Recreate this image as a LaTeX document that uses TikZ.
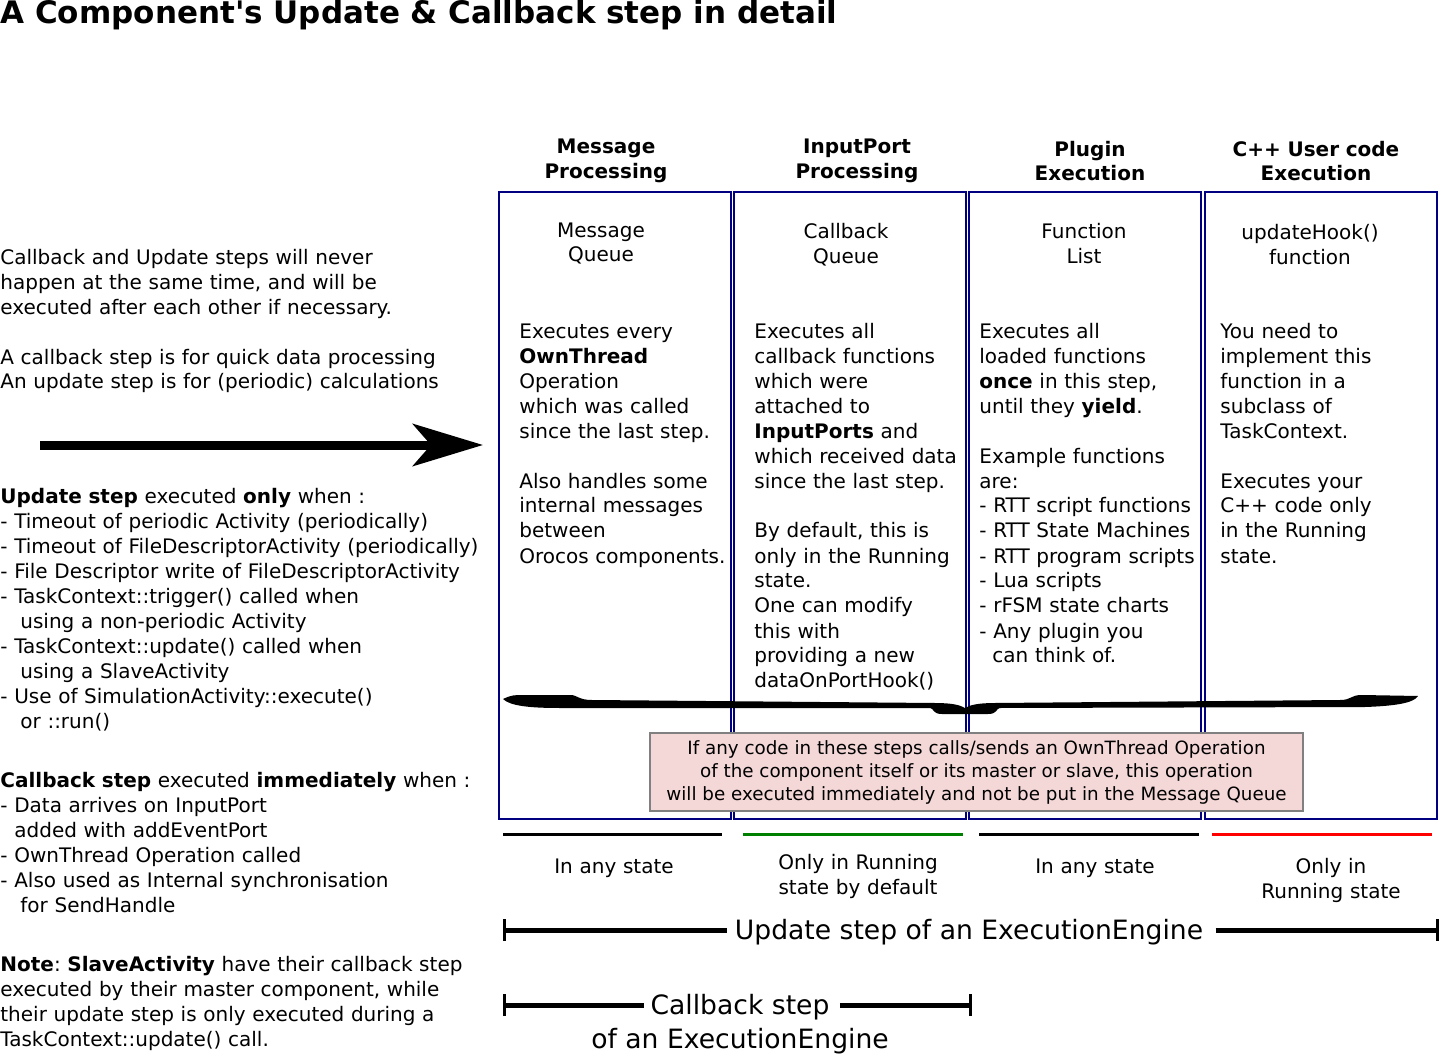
\documentclass[tikz,border=0pt]{standalone}
\usepackage{fontspec}
\setmainfont{DejaVu Sans}
\usetikzlibrary{arrows.meta}
\frenchspacing

\definecolor{navy}{RGB}{0,0,128}
\definecolor{okgreen}{RGB}{0,128,0}
\definecolor{notepink}{RGB}{244,215,215}

\newcommand{\bodyfont}{\fontsize{10}{12.5}\selectfont}
\newcommand{\notefont}{\fontsize{9.15}{11.5}\selectfont}
\newcommand{\barfont}{\fontsize{13.3}{17}\selectfont}

\begin{document}
\begin{tikzpicture}[x=0.5pt,y=-0.5pt,
  colbox/.style={draw=navy,line width=1pt,minimum width=116pt,minimum height=313.5pt,inner sep=0pt},
  lefttxt/.style={anchor=base west,inner sep=0pt,text width=250pt,align=left,font=\bodyfont},
  boxtxt/.style={anchor=base west,inner sep=0pt,text width=112pt,align=left,font=\bodyfont},
  headtxt/.style={anchor=base,inner sep=0pt,text width=112pt,align=center,font=\bodyfont\bfseries},
  midtxt/.style={anchor=base,inner sep=0pt,text width=112pt,align=center,font=\bodyfont},
  stateline/.style={line width=1.5pt},
  stepbar/.style={line width=2.5pt},
  bartick/.tip={Bar[width=11pt,line width=1.5pt]}]
  \useasboundingbox (0,0) rectangle (1442,1054);

  % title
  \node[anchor=base west,inner sep=0pt,font=\fontsize{15.5}{18}\selectfont\bfseries] (title) at (0,24)
    {A Component{\textquotesingle}s Update \& Callback step in detail};

  % left column
  \node[lefttxt] (intro) at (0,264) {Callback and Update steps will never\\
    happen at the same time, and will be\\
    executed after each other if necessary.\\[12.5pt]
    A callback step is for quick data processing\\
    An update step is for (periodic) calculations};
  \coordinate (arrowstart) at (40,445);
  \coordinate (arrowend) at (483,445);
  \draw[line width=4.5pt,-{Stealth[length=35pt,width=21pt,inset=9pt]}] (arrowstart) -- (arrowend);
  \node[lefttxt] (updwhen) at (0,503) {\textbf{Update step} executed \textbf{only} when :\\
    - Timeout of periodic Activity (periodically)\\
    - Timeout of FileDescriptorActivity (periodically)\\
    - File Descriptor write of FileDescriptorActivity\\
    - TaskContext::trigger() called when\\
    \hspace*{10pt}using a non-periodic Activity\\
    - TaskContext::update() called when\\
    \hspace*{10pt}using a SlaveActivity\\
    - Use of SimulationActivity::execute()\\
    \hspace*{10pt}or ::run()};
  \node[lefttxt] (cbwhen) at (0,787) {\textbf{Callback step} executed \textbf{immediately} when :\\
    - Data arrives on InputPort\\
    \hspace*{7pt}added with addEventPort\\
    - OwnThread Operation called\\
    - Also used as Internal synchronisation\\
    \hspace*{10pt}for SendHandle};
  \node[lefttxt] (slavenote) at (0,971) {\textbf{Note}: \textbf{SlaveActivity} have their callback step\\
    executed by their master component, while\\
    their update step is only executed during a\\
    TaskContext::update() call.};

  % the four steps
  \node[colbox] (msgbox) at (615,505.5) {};
  \node[colbox] (portbox) at (850,505.5) {};
  \node[colbox] (pluginbox) at (1085,505.5) {};
  \node[colbox] (userbox) at (1321,505.5) {};

  \node[headtxt] (msghead) at (606,154) {Message\\Processing};
  \node[headtxt] (porthead) at (857,154) {InputPort\\Processing};
  \node[headtxt] (pluginhead) at (1090,156) {Plugin\\Execution};
  \node[headtxt] (userhead) at (1316,156) {C++ User code\\Execution};

  \node[midtxt] (msgqueue) at (601,237) {Message\\Queue};
  \node[midtxt] (cbqueue) at (846,239) {Callback\\Queue};
  \node[midtxt] (funclist) at (1084,239) {Function\\List};
  \node[midtxt] (hookfn) at (1310,240) {updateHook()\\function};

  \node[boxtxt] (msgtext) at (519,338) {Executes every\\
    \textbf{OwnThread}\\
    Operation\\
    which was called\\
    since the last step.\\[12.5pt]
    Also handles some\\
    internal messages\\
    between\\
    Orocos components.};
  \node[boxtxt] (porttext) at (754,338) {Executes all\\
    callback functions\\
    which were\\
    attached to\\
    \textbf{InputPorts} and\\
    which received data\\
    since the last step.\\[12.5pt]
    By default, this is\\
    only in the Running\\
    state.\\
    One can modify\\
    this with\\
    providing a new\\
    dataOnPortHook()};
  \node[boxtxt] (plugintext) at (979,338) {Executes all\\
    loaded functions\\
    \textbf{once} in this step,\\
    until they \textbf{yield}.\\[12.5pt]
    Example functions\\
    are:\\
    - RTT script functions\\
    - RTT State Machines\\
    - RTT program scripts\\
    - Lua scripts\\
    - rFSM state charts\\
    - Any plugin you\\
    \hspace*{6.5pt}can think of.};
  \node[boxtxt] (usertext) at (1220,338) {You need to\\
    implement this\\
    function in a\\
    subclass of\\
    TaskContext.\\[12.5pt]
    Executes your\\
    C++ code only\\
    in the Running\\
    state.};

  % brace over all steps
  \fill (503,699) .. controls (512,695) .. (530,695) -- (570,695)
    .. controls (578,695) and (578,700) .. (592,700) -- (935,703)
    .. controls (952,703) and (960,705) .. (965,708)
    .. controls (970,705) and (978,703) .. (995,703) -- (1340,700)
    .. controls (1352,700) and (1350,695) .. (1362,695) -- (1418,696)
    .. controls (1414,703) and (1395,706) .. (1365,707) -- (1000,708)
    .. controls (996,708) and (998,714) .. (988,714) -- (942,714)
    .. controls (932,714) and (934,708) .. (930,708) -- (560,708)
    .. controls (530,708) and (510,706) .. (503,699) -- cycle;

  \node[draw=gray,line width=1pt,fill=notepink,minimum width=326.5pt,minimum height=39pt,
    align=center,font=\notefont,inner sep=0pt] (ownthread) at (976.5,772)
    {If any code in these steps calls/sends an OwnThread Operation\\
     of the component itself or its master or slave, this operation\\
     will be executed immediately and not be put in the Message Queue};

  % state lines
  \draw[stateline,black] (503,834) -- (722,834);
  \draw[stateline,okgreen] (743,834) -- (963,834);
  \draw[stateline,black] (979,834) -- (1199,834);
  \draw[stateline,red] (1212,834) -- (1432,834);

  \node[midtxt] (anystate1) at (614,873) {In any state};
  \node[midtxt] (runstate1) at (858,869) {Only in Running\\state by default};
  \node[midtxt] (anystate2) at (1095,873) {In any state};
  \node[midtxt] (runstate2) at (1331,873) {Only in\\Running state};

  % step bars
  \coordinate (updL) at (503,930);
  \coordinate (updR) at (1439,930);
  \node[anchor=base,inner sep=0pt,font=\barfont] (updstep) at (969,939) {Update step of an ExecutionEngine};
  \draw[stepbar,bartick-] (updL) -- ([xshift=-4pt]updstep.west |- updL);
  \draw[stepbar,-bartick] ([xshift=6pt]updstep.east |- updR) -- (updR);

  \coordinate (cbL) at (503,1005);
  \coordinate (cbR) at (972,1005);
  \node[anchor=base,inner sep=0pt,font=\barfont] (cbstep) at (740,1014) {Callback step};
  \node[anchor=base,inner sep=0pt,font=\barfont] (cbengine) at (740,1048) {of an ExecutionEngine};
  \draw[stepbar,bartick-] (cbL) -- ([xshift=-3pt]cbstep.west |- cbL);
  \draw[stepbar,-bartick] ([xshift=5pt]cbstep.east |- cbR) -- (cbR);
\end{tikzpicture}
\end{document}
